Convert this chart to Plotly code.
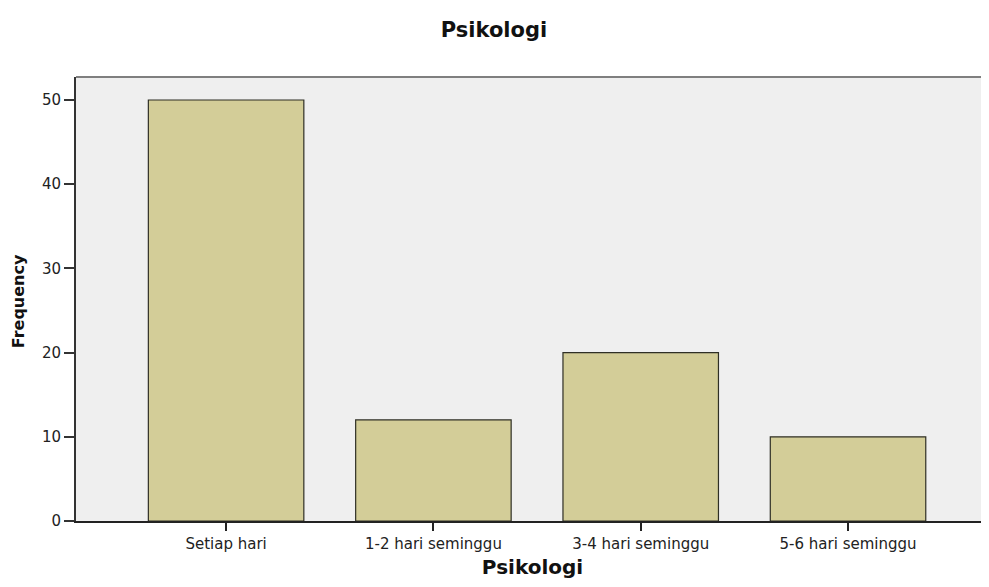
import plotly.graph_objects as go

categories = ["Setiap hari", "1-2 hari seminggu", "3-4 hari seminggu", "5-6 hari seminggu"]
frequency = [50, 12, 20, 10]
y_ticks = [0, 10, 20, 30, 40, 50]

FONT = "DejaVu Sans, Liberation Sans, sans-serif"

fig = go.Figure(go.Bar(
    x=categories, y=frequency,
    width=0.75,
    marker=dict(color="#d3cd98", line=dict(color="#2f2f25", width=1.2)),
))

# the page body adds an 8px margin all round, so keep the figure inside the window
fig.update_layout(
    width=981, height=571,
    margin=dict(l=68, r=0, t=69, b=58),
    paper_bgcolor="white",
    plot_bgcolor="#efefef",
    showlegend=False,
    font=dict(family=FONT, size=15, color="#222"),
    title=dict(
        text="<b>Psikologi</b>", x=0.4954, xref="container", xanchor="center",
        y=0.9615, yref="container", yanchor="middle",
        font=dict(family=FONT, size=21, color="#111"),
    ),
)

fig.update_xaxes(
    range=[-0.724, 3.68],
    showgrid=False, zeroline=False,
    showline=True, linecolor="#222", linewidth=1.5,
    ticks="outside", ticklen=8, tickcolor="#222", tickwidth=1.5,
    tickfont=dict(size=15, color="#222"),
    title=dict(text="<b>Psikologi</b>", font=dict(size=20, color="#111"), standoff=9),
)
fig.update_yaxes(
    range=[0, 52.73],
    tickvals=y_ticks,
    showgrid=False, zeroline=False,
    showline=True, linecolor="#333", linewidth=2,
    ticks="outside", ticklen=10, tickcolor="#333", tickwidth=1.5,
    tickfont=dict(size=15, color="#222"),
)

fig.add_annotation(
    text="<b>Frequency</b>", textangle=-90,
    xref="paper", yref="paper", x=-0.0635, y=0.495,
    xanchor="center", yanchor="middle", showarrow=False,
    font=dict(family=FONT, size=16, color="#111"),
)

# grey frame on top of the plot area
fig.add_shape(
    type="line", xref="paper", yref="paper",
    x0=0, x1=1, y0=1, y1=1,
    line=dict(color="#7f7f7f", width=2),
)

fig.write_html("out.html")
